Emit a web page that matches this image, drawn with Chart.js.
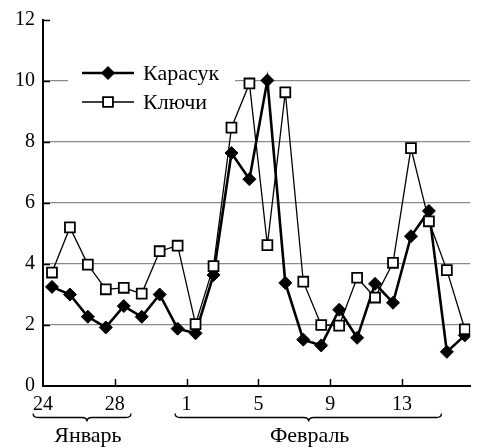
<!DOCTYPE html>
<html>
<head>
<meta charset="utf-8">
<script src="https://cdn.jsdelivr.net/npm/chart.js@4.4.0/dist/chart.umd.min.js"></script>
<style>
html, body { margin: 0; padding: 0; background: #fff; }
#wrap { width: 479px; height: 448px; }
</style>
</head>
<body>
<div id="wrap"><canvas id="chart" width="479" height="448"></canvas></div>
<script>
// days of observation, 24 Jan .. 16 Feb
const days = ['24','25','26','27','28','29','30','31',
              '1','2','3','4','5','6','7','8','9','10','11','12','13','14','15','16']
const karasuk = [3.25, 3.0, 2.27, 1.92, 2.62, 2.27, 3.0, 1.88,
                 1.73, 3.64, 7.64, 6.78, 10.02, 3.38, 1.52, 1.33, 2.5, 1.58, 3.35, 2.73, 4.91, 5.74, 1.12, 1.66]
const klyuchi = [3.72, 5.2, 3.98, 3.17, 3.22, 3.03, 4.42, 4.6,
                 2.03, 3.93, 8.47, 9.92, 4.62, 9.63, 3.42, 2.0, 1.98, 3.55, 2.9, 4.04, 7.8, 5.4, 3.8, 1.86]
const seriesNames = ['Карасук', 'Ключи']
const tickValues = [0, 4, 8, 12, 16, 20]
const tickLabels = ['24', '28', '1', '5', '9', '13']
const months = ['Январь', 'Февраль']
const yTicks = [0, 2, 4, 6, 8, 10, 12]

const FONT = "'Liberation Serif', 'Times New Roman', serif"

// points sit in the middle of each day
function toPoints(values){
    return values.map((v, i) => ({x: i + 0.5, y: v}))
}

const decorations = {
    id: 'decorations',
    afterDraw(chart){
        const ctx = chart.ctx
        const xs = chart.scales.x
        const ys = chart.scales.y
        const area = chart.chartArea
        ctx.save()
        ctx.strokeStyle = '#000'
        ctx.lineWidth = 1.5
        // inward tick marks
        yTicks.forEach(v => {
            if(v === 0) return
            let y = Math.round(ys.getPixelForValue(v)) + 0.5
            ctx.beginPath(); ctx.moveTo(area.left, y); ctx.lineTo(area.left + 7, y); ctx.stroke()
        })
        tickValues.forEach(v => {
            if(v === 0) return
            let x = Math.round(xs.getPixelForValue(v)) + 0.5
            ctx.beginPath(); ctx.moveTo(x, area.bottom); ctx.lineTo(x, area.bottom - 7); ctx.stroke()
        })

        // month braces
        const spans = [[-0.55, 4.9, 2.45], [7.36, 22.2, 14.8]]
        ctx.lineWidth = 1.3
        spans.forEach((s, i) => {
            let x1 = xs.getPixelForValue(s[0])
            let x2 = xs.getPixelForValue(s[1])
            let xm = xs.getPixelForValue(s[2])
            let y = 417.5
            ctx.beginPath()
            ctx.moveTo(x1, y - 4)
            ctx.quadraticCurveTo(x1, y, x1 + 5, y)
            ctx.lineTo(xm - 5, y)
            ctx.quadraticCurveTo(xm, y, xm, y + 4)
            ctx.quadraticCurveTo(xm, y, xm + 5, y)
            ctx.lineTo(x2 - 5, y)
            ctx.quadraticCurveTo(x2, y, x2, y - 4)
            ctx.stroke()
            ctx.fillStyle = '#000'
            ctx.font = '22px ' + FONT
            ctx.textAlign = 'center'
            ctx.textBaseline = 'alphabetic'
            ctx.fillText(months[i], xm + 1, 442)
        })

        // legend
        ctx.fillStyle = '#fff'
        ctx.fillRect(68, 56, 167, 60)
        chart.data.datasets.slice().sort((a, b) => b.order - a.order).forEach((ds, i) => {
            let y = 73 + i * 29
            ctx.strokeStyle = ds.borderColor
            ctx.lineWidth = ds.borderWidth
            ctx.beginPath(); ctx.moveTo(82, y); ctx.lineTo(134, y); ctx.stroke()
            ctx.lineWidth = ds.pointBorderWidth
            ctx.fillStyle = ds.pointBackgroundColor
            ctx.strokeStyle = ds.pointBorderColor
            ctx.beginPath()
            if(ds.pointStyle === 'rectRot'){
                let r = ds.pointRadius
                ctx.moveTo(108, y - r); ctx.lineTo(108 + r, y); ctx.lineTo(108, y + r); ctx.lineTo(108 - r, y); ctx.closePath()
            } else {
                let h = ds.pointRadius * Math.SQRT1_2
                ctx.rect(108 - h, y - h, 2 * h, 2 * h)
            }
            ctx.fill(); ctx.stroke()
            ctx.fillStyle = '#000'
            ctx.font = '22px ' + FONT
            ctx.textAlign = 'left'
            ctx.textBaseline = 'middle'
            ctx.fillText(ds.label, 143, y + 1)
        })
        ctx.restore()
    }
}

new Chart(document.querySelector('#chart'), {
    type: 'line',
    data: {
        datasets: [
            {
                label: seriesNames[0],
                data: toPoints(karasuk),
                order: 1,
                borderColor: '#000',
                borderWidth: 2.6,
                pointStyle: 'rectRot',
                pointRadius: 6.5,
                pointBorderWidth: 1,
                pointBackgroundColor: '#000',
                pointBorderColor: '#000',
                tension: 0
            },
            {
                label: seriesNames[1],
                data: toPoints(klyuchi),
                order: 0,
                borderColor: '#000',
                borderWidth: 1.3,
                pointStyle: 'rect',
                pointRadius: 7,
                pointBorderWidth: 1.8,
                pointBackgroundColor: '#fff',
                pointBorderColor: '#000',
                tension: 0
            }
        ]
    },
    options: {
        responsive: false,
        animation: false,
        devicePixelRatio: 1,
        layout: {padding: {top: 16, right: 0, left: 0, bottom: 0}},
        plugins: {legend: {display: false}, tooltip: {enabled: false}},
        scales: {
            x: {
                type: 'linear',
                min: 0,
                max: 23.8,
                afterBuildTicks: s => { s.ticks = tickValues.map(v => ({value: v})) },
                afterFit: s => { s.height = 62 },
                grid: {drawOnChartArea: false, drawTicks: false},
                border: {color: '#000', width: 2},
                ticks: {
                    callback: (v, i) => tickLabels[i],
                    autoSkip: false,
                    maxRotation: 0,
                    padding: 7,
                    color: '#000',
                    font: {family: FONT, size: 20}
                }
            },
            y: {
                min: 0,
                max: 12,
                afterBuildTicks: s => { s.ticks = yTicks.map(v => ({value: v})) },
                afterFit: s => { s.width = 43 },
                grid: {
                    drawTicks: false,
                    color: c => (c.tick && c.tick.value > 0 && c.tick.value < 12) ? '#8a8a8a' : 'rgba(0,0,0,0)',
                    lineWidth: 1.2
                },
                border: {color: '#000', width: 2},
                ticks: {
                    padding: 8,
                    color: '#000',
                    font: {family: FONT, size: 20}
                }
            }
        }
    },
    plugins: [decorations]
})
</script>
</body>
</html>
